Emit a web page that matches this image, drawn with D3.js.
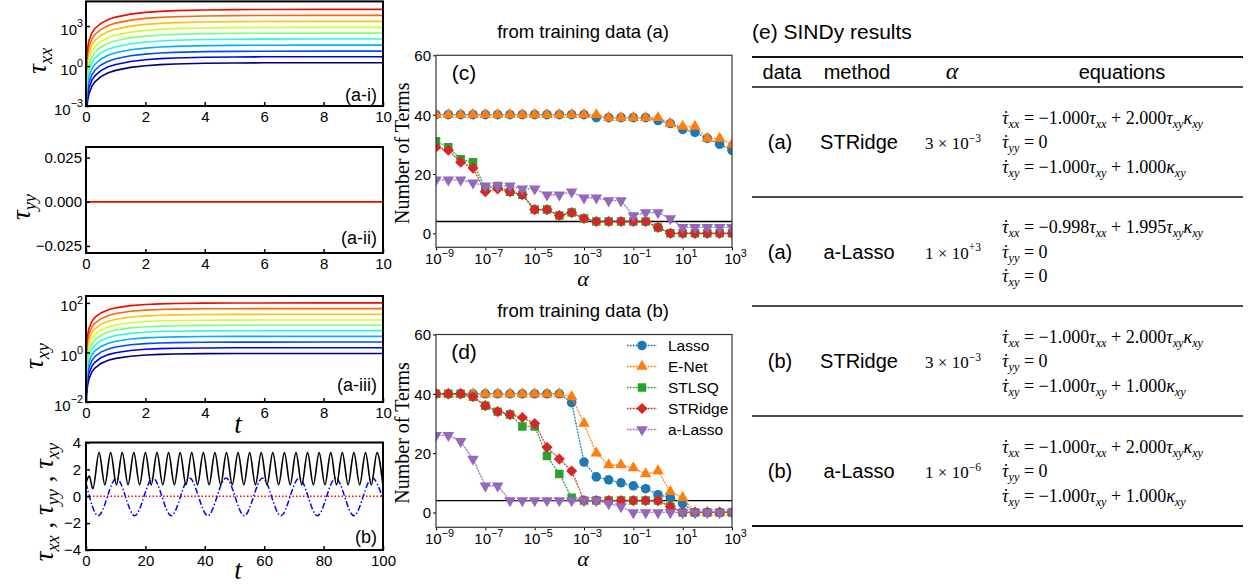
<!DOCTYPE html>
<html>
<head>
<meta charset="utf-8">
<script src="https://cdn.jsdelivr.net/npm/d3@7"></script>
<style>
  body { margin: 0; background: #fff; }
  svg { display: block; }
  text { white-space: pre; }
</style>
</head>
<body>
<svg id="fig" width="1258" height="586"></svg>
<script>
// ---------------- data ----------------
// start-up of shear flow: normalised rise of the stresses and their plateau levels
const startupT = [0.0001, 0.0005, 0.002, 0.005, 0.01, 0.02, 0.05, 0.1, 0.2, 0.3, 0.5, 0.75, 1, 1.5, 2, 2.5, 3, 4, 5, 6, 8, 10];
const txxRise  = [5e-9, 1.25e-7, 2e-6, 1.25e-5, 5e-5, 1.97e-4, 1.21e-3, 4.68e-3, 0.0175, 0.0369, 0.0902, 0.173, 0.264, 0.442, 0.594, 0.713, 0.801, 0.908, 0.960, 0.983, 0.997, 0.9995];
const txyRise  = [1e-4, 5e-4, 0.002, 0.005, 0.00995, 0.0198, 0.0488, 0.095, 0.181, 0.259, 0.393, 0.528, 0.632, 0.777, 0.865, 0.918, 0.950, 0.982, 0.993, 0.9975, 0.9997, 1.0];
const txxPlateau = [1.78, 5.0, 13.2, 37.2, 107, 295, 794, 2240, 6310, 17800];
const txyPlateau = [0.91, 1.55, 2.63, 4.47, 7.59, 12.6, 20.4, 34.7, 58.9, 100];
const rampColors = ["#00007f", "#0000f1", "#004cff", "#00b0ff", "#29ffce", "#7dff7a", "#ceff29", "#ffc400", "#ff6800", "#f10800"];

// oscillatory shear: extrema of tau_xx (solid) and tau_xy (dash-dot)
const oscTxx = [[0,1.0],[1.1,1.5],[2.3,0.55],[4.4,3.25],[6.35,0.85],[8.3,3.25],[10.25,0.85],[12.2,3.25],[14.15,0.85],[16.1,3.25],[18.05,0.85],[20.0,3.25],[21.95,0.85],[23.9,3.25],[25.85,0.85],[27.8,3.25],[29.75,0.85],[31.7,3.25],[33.65,0.85],[35.6,3.25],[37.55,0.85],[39.5,3.25],[41.45,0.85],[43.4,3.25],[45.35,0.85],[47.3,3.25],[49.25,0.85],[51.2,3.25],[53.15,0.85],[55.1,3.25],[57.05,0.85],[59.0,3.25],[60.95,0.85],[62.9,3.25],[64.85,0.85],[66.8,3.25],[68.75,0.85],[70.7,3.25],[72.65,0.85],[74.6,3.25],[76.55,0.85],[78.5,3.25],[80.45,0.85],[82.4,3.25],[84.35,0.85],[86.3,3.25],[88.25,0.85],[90.2,3.25],[92.15,0.85],[94.1,3.25],[96.05,0.85],[98.0,3.25],[99.95,0.85]];
const oscTxy = [[0,1.0],[4.1,-1.45],[10.25,1.35],[16.4,-1.45],[22.55,1.35],[28.7,-1.45],[34.85,1.35],[41.0,-1.45],[47.15,1.35],[53.3,-1.45],[59.45,1.35],[65.6,-1.45],[71.75,1.35],[77.9,-1.45],[84.05,1.35],[90.2,-1.45],[96.35,1.35],[100,-0.2]];
const oscTyy = [[0,0],[100,0]];

// sparsity sweep: number of active terms versus alpha
const alphas = [1e-9,3.16e-9,1e-8,3.16e-8,1e-7,3.16e-7,1e-6,3.16e-6,1e-5,3.16e-5,1e-4,3.16e-4,1e-3,3.16e-3,1e-2,3.16e-2,1e-1,3.16e-1,1,3.16,10,31.6,100,316,1000];
const methods = ["Lasso", "E-Net", "STLSQ", "STRidge", "a-Lasso"];
const methodColors = ["#1f77b4", "#ff7f0e", "#2ca02c", "#d62728", "#9467bd"];
const termsA = [
  [40,40,40,40,40,40,40,40,40,40,40,40,40,39,39,39,39,39,38,37,35,34,32,30,28],
  [40,40,40,40,40,40,40,40,40,40,40,40,40,40,39,39,39,39,39,37,36,36,32,32,30],
  [31,29,25,24,15,16,14,13,8,8,6,7,5,4,4,4,4,4,2,0,0,0,0,0,0],
  [29,28,24,22,14,15,14,13,8,8,6,7,5,4,4,4,4,4,2,0,0,0,0,0,0],
  [18,18,18,17,16,16,16,15,15,13,13,14,12,12,11,11,6,7,7,5,2,2,2,2,2]
];
const termsB = [
  [40,40,40,40,40,40,40,40,40,40,40,37,17,12,11,10,9,8,6,5,3,0,0,0,0],
  [40,40,40,40,40,40,40,40,40,40,40,39,30,20,16,16,15,13,14,7,5,0,0,0,0],
  [40,40,40,39,36,34,33,29,29,19,13,5,4,4,4,4,4,4,4,2,0,0,0,0,0],
  [40,40,40,39,36,34,33,32,30,22,18,14,4,4,4,4,4,4,4,2,0,0,0,0,0],
  [26,26,24,18,9,9,4,4,4,4,4,4,4,4,3,2,0,0,0,0,0,0,0,0,0]
];
const trueTerms = 4;

// identified models
const tableRows = [
  { data: "(a)", method: "STRidge", alpha: "3 × 10^{−3}",
    eqs: ["τ̇_{xx} = −1.000τ_{xx} + 2.000τ_{xy}κ_{xy}", "τ̇_{yy} = 0", "τ̇_{xy} = −1.000τ_{xy} + 1.000κ_{xy}"] },
  { data: "(a)", method: "a-Lasso", alpha: "1 × 10^{+3}",
    eqs: ["τ̇_{xx} = −0.998τ_{xx} + 1.995τ_{xy}κ_{xy}", "τ̇_{yy} = 0", "τ̇_{xy} = 0"] },
  { data: "(b)", method: "STRidge", alpha: "3 × 10^{−3}",
    eqs: ["τ̇_{xx} = −1.000τ_{xx} + 2.000τ_{xy}κ_{xy}", "τ̇_{yy} = 0", "τ̇_{xy} = −1.000τ_{xy} + 1.000κ_{xy}"] },
  { data: "(b)", method: "a-Lasso", alpha: "1 × 10^{−6}",
    eqs: ["τ̇_{xx} = −1.000τ_{xx} + 2.000τ_{xy}κ_{xy}", "τ̇_{yy} = 0", "τ̇_{xy} = −1.000τ_{xy} + 1.000κ_{xy}"] }
];

// ---------------- helpers ----------------
const SANS = "'Liberation Sans', Arial, sans-serif";
const SERIF = "'Liberation Serif', 'Times New Roman', serif";
const svg = d3.select("#fig");
svg.append("rect").attr("width", 1258).attr("height", 586).attr("fill", "#fff");
const defs = svg.append("defs");
const MINUS = "\u2212";

// text with _{sub} and ^{sup} groups; greek letters in italic, a combining dot drawn above its letter
function mathText(sel, src, size) {
  let cur = 0;
  let pendingDx = 0;
  const tokens = src.split(/(_\{[^}]*\}|\^\{[^}]*\})/).filter(s => s.length);
  tokens.forEach(tok => {
    let target = 0, str = tok, fs = size, italic = false, pieces;
    if (tok[0] === "_" && tok[1] === "{") {
      target = size * 0.24; str = tok.slice(2, -1); fs = size * 0.68; italic = true; pieces = [str];
    } else if (tok[0] === "^" && tok[1] === "{") {
      target = -size * 0.42; str = tok.slice(2, -1); fs = size * 0.68; pieces = [str];
    } else {
      pieces = str.split(/([τκα]\u0307?)/).filter(s => s.length);
    }
    pieces.forEach((pc, k) => {
      const dotted = pc.length === 2 && pc[1] === "\u0307";
      const ts = sel.append("tspan").attr("font-size", fs).text(dotted ? pc[0] : pc);
      if (k === 0 && target !== cur) { ts.attr("dy", target - cur); cur = target; }
      if (pendingDx) { ts.attr("dx", pendingDx); pendingDx = 0; }
      if (italic || /^[τκα]/.test(pc)) ts.attr("font-style", "italic");
      if (dotted) {
        sel.append("tspan").attr("font-size", fs).attr("dx", -fs * 0.30).text("\u02D9");
        pendingDx = -fs * 0.03;
      }
    });
  });
}

function clip(id, x, y, w, h) {
  defs.append("clipPath").attr("id", id).append("rect").attr("x", x).attr("y", y).attr("width", w).attr("height", h);
  return "url(#" + id + ")";
}

function styleAxis(g, width) {
  g.select(".domain").remove();
  g.selectAll(".tick line").attr("stroke", "#000").attr("stroke-width", width);
  g.selectAll(".tick text").attr("font-family", SANS).attr("font-size", 15).attr("fill", "#000");
}

// power-of-ten tick labels
function powTicks(g, orient, size) {
  g.selectAll(".tick").each(function (d) {
    const e = Math.round(Math.log10(d));
    const t = d3.select(this).append("text").attr("font-family", SANS).attr("fill", "#000").attr("font-size", size);
    if (orient === "left") t.attr("text-anchor", "end").attr("x", -3).attr("y", 8);
    else t.attr("text-anchor", "middle").attr("x", 3).attr("y", 17);
    t.append("tspan").text("10");
    t.append("tspan").attr("font-size", size * 0.72).attr("dy", -size * 0.48).text(e < 0 ? MINUS + (-e) : String(e));
  });
}

function frame(x0, x1, y0, y1, w, color) {
  svg.append("rect").attr("x", x0).attr("y", y0).attr("width", x1 - x0).attr("height", y1 - y0)
    .attr("fill", "none").attr("stroke", color).attr("stroke-width", w);
}

function yLabel(x, y, src, size) {
  const t = svg.append("text").attr("transform", `translate(${x},${y}) rotate(-90)`)
    .attr("text-anchor", "middle").attr("font-family", SERIF).attr("fill", "#000");
  mathText(t, src, size);
  return t;
}

function plainText(x, y, str, size, anchor, family) {
  return svg.append("text").attr("x", x).attr("y", y).attr("dy", "0.35em").attr("text-anchor", anchor || "start")
    .attr("font-family", family || SANS).attr("font-size", size).attr("fill", "#000").text(str);
}

// ---------------- panels (a-i), (a-ii), (a-iii): start-up ----------------
const AX0 = 86, AX1 = 383;
const xA = d3.scaleLinear().domain([0, 10]).range([AX0, AX1]);

function startupPanel(id, y0, y1, yScale, plateaus, rise, yTicks, logTicks, label, labelY, ylab, ylabX) {
  const cp = clip(id, AX0, y0, AX1 - AX0, y1 - y0);
  const g = svg.append("g").attr("clip-path", cp);
  const line = d3.line().x(d => xA(d[0])).y(d => yScale(d[1]));
  plateaus.forEach((p, i) => {
    const pts = startupT.map((t, k) => [t, rise ? p * rise[k] : 0]);
    g.append("path").datum(pts).attr("d", line).attr("fill", "none")
      .attr("stroke", rampColors[i]).attr("stroke-width", 1.6);
  });
  const xg = svg.append("g").attr("transform", `translate(0,${y1})`)
    .call(d3.axisBottom(xA).tickValues([0, 2, 4, 6, 8, 10]).tickSizeInner(-4).tickSizeOuter(0).tickPadding(5));
  styleAxis(xg, 1.5);
  const ya = d3.axisLeft(yScale).tickValues(yTicks).tickSizeInner(-4).tickSizeOuter(0).tickPadding(4);
  if (logTicks) ya.tickFormat("");
  else ya.tickFormat(d => d === 0 ? "0.000" : (d < 0 ? MINUS : "") + Math.abs(d).toFixed(3));
  const yg = svg.append("g").attr("transform", `translate(${AX0},0)`).call(ya);
  styleAxis(yg, 1.5);
  if (logTicks) powTicks(yg, "left", 15);
  frame(AX0, AX1, y0, y1, 2, "#000");
  plainText(377, labelY, label, 18, "end");
  yLabel(ylabX, (y0 + y1) / 2 + 7, ylab, 27);
}

const yA1 = d3.scaleLog().domain([1e-3, 7.08e4]).range([106, 1.4]);
startupPanel("c1", 1.4, 106, yA1, txxPlateau, txxRise, [1e-3, 1, 1e3], true, "(a-i)", 95, "τ_{xx}", 46);

const yA2 = d3.scaleLinear().domain([-0.029, 0.031]).range([253, 147]);
startupPanel("c2", 147, 253, yA2, txyPlateau, null, [-0.025, 0, 0.025], false, "(a-ii)", 238, "τ_{yy}", 30);

const yA3 = d3.scaleLog().domain([1e-2, 190]).range([402, 296]);
startupPanel("c3", 296, 402, yA3, txyPlateau, txyRise, [1e-2, 1, 1e2], true, "(a-iii)", 385, "τ_{xy}", 43);
plainText(238, 424, "t", 27, "middle", SERIF).attr("font-style", "italic");

// ---------------- panel (b): oscillatory shear ----------------
const xB = d3.scaleLinear().domain([0, 100]).range([AX0, AX1]);
const yB = d3.scaleLinear().domain([-4, 4]).range([550, 442.5]);
{
  const cp = clip("c4", AX0, 442.5, AX1 - AX0, 107.5);
  const g = svg.append("g").attr("clip-path", cp);
  const line = d3.line().x(d => xB(d[0])).y(d => yB(d[1])).curve(d3.curveMonotoneX);
  g.append("path").datum(oscTxy).attr("d", line).attr("fill", "none").attr("stroke", "#0000ff")
    .attr("stroke-width", 1.5).attr("stroke-dasharray", "6,2.2,1.5,2.2");
  g.append("path").datum(oscTyy).attr("d", line).attr("fill", "none").attr("stroke", "#ff0000")
    .attr("stroke-width", 1.5).attr("stroke-dasharray", "1.5,2");
  g.append("path").datum(oscTxx).attr("d", line).attr("fill", "none").attr("stroke", "#000")
    .attr("stroke-width", 1.6);
  const xg = svg.append("g").attr("transform", "translate(0,550)")
    .call(d3.axisBottom(xB).tickValues([0, 20, 40, 60, 80, 100]).tickSizeInner(-4).tickSizeOuter(0).tickPadding(5));
  styleAxis(xg, 1.5);
  const yg = svg.append("g").attr("transform", `translate(${AX0},0)`)
    .call(d3.axisLeft(yB).tickValues([-4, -2, 0, 2, 4]).tickSizeInner(-4).tickSizeOuter(0).tickPadding(5)
      .tickFormat(d => (d < 0 ? MINUS : "") + Math.abs(d)));
  styleAxis(yg, 1.5);
  frame(AX0, AX1, 442.5, 550, 2, "#000");
  plainText(377, 537, "(b)", 18, "end");
  yLabel(53, 502, "τ_{xx} , τ_{yy} , τ_{xy}", 27);
  plainText(238, 570, "t", 27, "middle", SERIF).attr("font-style", "italic");
}

// ---------------- panels (c), (d): number of terms vs alpha ----------------
const CX0 = 436, CX1 = 732;
const xC = d3.scaleLog().domain([1e-9, 1e3]).range([CX0, CX1]);
const symbolPaths = [
  d3.symbol().type(d3.symbolCircle).size(72)(),
  d3.symbol().type(d3.symbolTriangle).size(58)(),
  d3.symbol().type(d3.symbolSquare).size(72)(),
  d3.symbol().type(d3.symbolSquare).size(62)(),
  d3.symbol().type(d3.symbolTriangle).size(58)()
];
const symbolRot = [0, 0, 0, 45, 180];

function termsPanel(id, y0, y1, yScale, terms, title, tag, withLegend) {
  plainText(583, y0 - 24, title, 18.5, "middle");
  const cp = clip(id, CX0, y0, CX1 - CX0, y1 - y0);
  const g = svg.append("g").attr("clip-path", cp);
  g.append("line").attr("x1", CX0).attr("x2", CX1).attr("y1", yScale(trueTerms)).attr("y2", yScale(trueTerms))
    .attr("stroke", "#000").attr("stroke-width", 1.3);
  const line = d3.line().x((d, i) => xC(alphas[i])).y(d => yScale(d));
  terms.forEach((vals, m) => {
    g.append("path").datum(vals).attr("d", line).attr("fill", "none").attr("stroke", methodColors[m])
      .attr("stroke-width", 1.3).attr("stroke-opacity", 0.3);
    g.append("path").datum(vals).attr("d", line).attr("fill", "none").attr("stroke", methodColors[m])
      .attr("stroke-width", 1.3).attr("stroke-dasharray", "1.3,1.7");
    g.selectAll(null).data(vals).enter().append("path")
      .attr("d", symbolPaths[m])
      .attr("transform", (d, i) => `translate(${xC(alphas[i])},${yScale(d)}) rotate(${symbolRot[m]})`)
      .attr("fill", methodColors[m]);
  });
  const xg = svg.append("g").attr("transform", `translate(0,${y1})`)
    .call(d3.axisBottom(xC).tickValues([1e-9, 1e-7, 1e-5, 1e-3, 1e-1, 1e1, 1e3]).tickSizeInner(3).tickSizeOuter(0).tickFormat(""));
  styleAxis(xg, 1);
  powTicks(xg, "bottom", 15);
  const yg = svg.append("g").attr("transform", `translate(${CX0},0)`)
    .call(d3.axisLeft(yScale).tickValues([0, 20, 40, 60]).tickSizeInner(3).tickSizeOuter(0).tickPadding(2));
  styleAxis(yg, 1);
  yg.selectAll(".tick text").attr("dy", "0.36em");
  frame(CX0, CX1, y0, y1, 1.2, "#333");
  plainText(464, y0 + 17, tag, 21, "middle");
  yLabel(409, (y0 + y1) / 2 + 2, "Number of Terms", 20).selectAll("tspan").attr("font-style", null);
  plainText(583, y1 + 31, "α", 22, "middle", SERIF).attr("font-style", "italic");

  if (withLegend) {
    methods.forEach((name, m) => {
      const ly = y0 + 11 + m * 21;
      svg.append("line").attr("x1", 627).attr("x2", 657).attr("y1", ly).attr("y2", ly)
        .attr("stroke", methodColors[m]).attr("stroke-width", 1.3).attr("stroke-opacity", 0.3);
      svg.append("line").attr("x1", 627).attr("x2", 657).attr("y1", ly).attr("y2", ly)
        .attr("stroke", methodColors[m]).attr("stroke-width", 1.3).attr("stroke-dasharray", "1.3,1.7");
      svg.append("path").attr("d", symbolPaths[m]).attr("fill", methodColors[m])
        .attr("transform", `translate(642,${ly}) rotate(${symbolRot[m]})`);
      plainText(668, ly, name, 15.5, "start");
    });
  }
}

const yC = d3.scaleLinear().domain([-4.7, 60]).range([247.3, 55.3]);
termsPanel("c5", 55.3, 247.3, yC, termsA, "from training data (a)", "(c)", false);
const yD = d3.scaleLinear().domain([-5, 60]).range([527.3, 334.5]);
termsPanel("c6", 334.5, 527.3, yD, termsB, "from training data (b)", "(d)", true);

// ---------------- table (e) ----------------
const TX0 = 752, TX1 = 1243;
plainText(752, 32, "(e) SINDy results", 21, "start");
const rules = [[57, 2], [87, 1.5], [197, 1.5], [306, 1.5], [416, 1.5], [526, 2]];
rules.forEach(([y, w]) => svg.append("line").attr("x1", TX0).attr("x2", TX1).attr("y1", y).attr("y2", y)
  .attr("stroke", "#111").attr("stroke-width", w));
plainText(782, 72, "data", 20, "middle");
plainText(857, 72, "method", 20, "middle");
plainText(952, 71, "α", 24, "middle", SERIF).attr("font-style", "italic");
plainText(1122, 72, "equations", 20, "middle");

const rowCenters = [142, 251.5, 361, 471];
tableRows.forEach((r, k) => {
  const cy = rowCenters[k];
  plainText(780, cy, r.data, 20, "middle");
  plainText(859, cy, r.method, 20, "middle");
  const at = svg.append("text").attr("x", 953).attr("y", cy + 7).attr("text-anchor", "middle")
    .attr("font-family", SERIF).attr("fill", "#000");
  mathText(at, r.alpha, 17);
  r.eqs.forEach((e, j) => {
    const t = svg.append("text").attr("x", 1002).attr("y", cy + (j - 1) * 24.5 + 6)
      .attr("font-family", SERIF).attr("fill", "#000");
    mathText(t, e, 18);
  });
});
</script>
</body>
</html>
